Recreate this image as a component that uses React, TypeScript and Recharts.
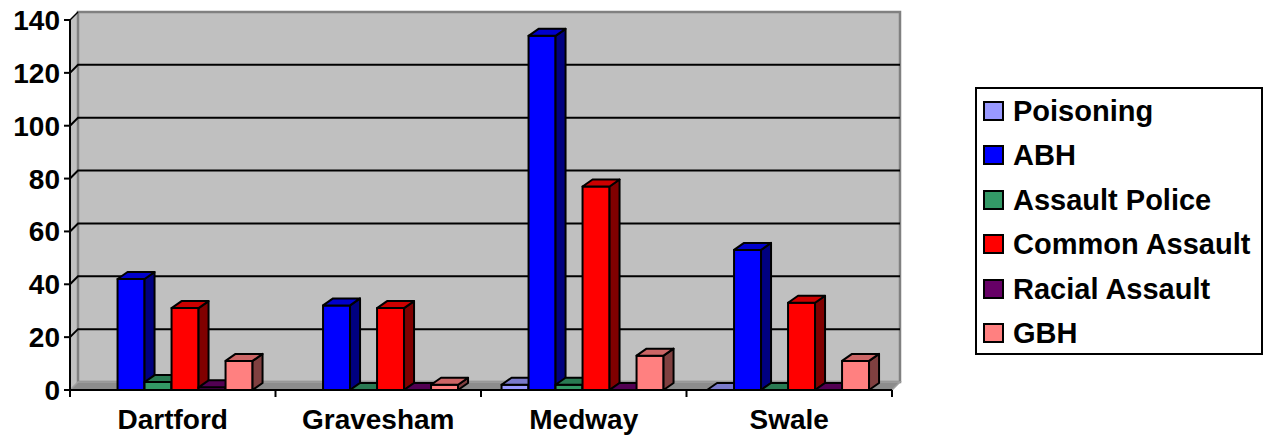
import React from 'react';
import { BarChart, Bar, XAxis, YAxis, CartesianGrid } from 'recharts';

// ---- data ----
const categories = ['Dartford', 'Gravesham', 'Medway', 'Swale'];
const poisoning: (number | null)[] = [null, null, 2, 0];
const abh = [42, 32, 134, 53];
const assaultPolice = [3, 0, 2, 0];
const commonAssault = [31, 31, 77, 33];
const racialAssault = [1, 0, 0, 0];
const gbh = [11, 2, 13, 11];
const yTicks = [0, 20, 40, 60, 80, 100, 120, 140];

const series = [
  { key: 'poisoning', name: 'Poisoning', values: poisoning, color: '#9999FF', top: '#7A7ACC', side: '#4D4D80' },
  { key: 'abh', name: 'ABH', values: abh, color: '#0000FF', top: '#0000CC', side: '#000080' },
  { key: 'assaultPolice', name: 'Assault Police', values: assaultPolice, color: '#339966', top: '#297A52', side: '#1A4D33' },
  { key: 'commonAssault', name: 'Common Assault', values: commonAssault, color: '#FF0000', top: '#CC0000', side: '#800000' },
  { key: 'racialAssault', name: 'Racial Assault', values: racialAssault, color: '#660066', top: '#520052', side: '#330033' },
  { key: 'gbh', name: 'GBH', values: gbh, color: '#FF8080', top: '#CC6666', side: '#804040' },
];

const data = categories.map((c, i) => {
  const row: any = { name: c };
  series.forEach((s) => (row[s.key] = s.values[i]));
  return row;
});

// ---- layout ----
const W = 1270;
const H = 436;
const PLOT_LEFT = 70;
const PLOT_TOP = 20;
const PLOT_W = 822;
const PLOT_H = 370;
const PLOT_RIGHT = PLOT_LEFT + PLOT_W;
const PLOT_BOTTOM = PLOT_TOP + PLOT_H;
const WALL_DX = 8;
const WALL_DY = 8;
const BAR_DX = 10;
const BAR_DY = 7;

const FONT = "'Liberation Sans', Arial, Helvetica, sans-serif";
const textStyle: React.CSSProperties = {
  fontFamily: FONT,
  fontWeight: 'bold',
  fontSize: 29,
};
const yTextStyle: React.CSSProperties = { ...textStyle, fontSize: 28 };
const xTextStyle: React.CSSProperties = { ...textStyle, fontSize: 28 };

const make3DShape = (s: any) => (props: any) => {
  const { x, y, width, height, payload } = props;
  if (!payload || payload[s.key] == null || x == null || y == null) return <g />;
  const h = Math.max(0, height || 0);
  const w = width;
  const top = `${x},${y} ${x + BAR_DX},${y - BAR_DY} ${x + w + BAR_DX},${y - BAR_DY} ${x + w},${y}`;
  const side = `${x + w},${y} ${x + w + BAR_DX},${y - BAR_DY} ${x + w + BAR_DX},${y + h - BAR_DY} ${x + w},${y + h}`;
  return (
    <g>
      {h > 0 && (
        <rect x={x} y={y} width={w} height={h} fill={s.color} stroke="#000" strokeWidth={2} strokeLinejoin="round" />
      )}
      {h > 0 && <polygon points={side} fill={s.side} stroke="#000" strokeWidth={2} strokeLinejoin="round" />}
      <polygon points={top} fill={s.top} stroke="#000" strokeWidth={2} strokeLinejoin="round" />
    </g>
  );
};

const GridLine = (p: any) => {
  const { y1, x1, x2 } = p;
  if (Math.abs(y1 - PLOT_BOTTOM) < 1 || Math.abs(y1 - PLOT_TOP) < 1) return <g key={p.key} />;
  return (
    <polyline
      key={p.key}
      points={`${x1},${y1} ${x1 + WALL_DX},${y1 - WALL_DY} ${x2 + WALL_DX},${y1 - WALL_DY}`}
      stroke="#000"
      strokeWidth={2}
      fill="none"
    />
  );
};

const XTick = (props: any) => {
  const { x, payload, index } = props;
  const band = PLOT_W / categories.length;
  const bx = x - band / 2;
  return (
    <g>
      <line x1={bx} y1={PLOT_BOTTOM} x2={bx} y2={PLOT_BOTTOM + 7} stroke="#000" strokeWidth={2} />
      {index === categories.length - 1 && (
        <line x1={bx + band} y1={PLOT_BOTTOM} x2={bx + band} y2={PLOT_BOTTOM + 7} stroke="#000" strokeWidth={2} />
      )}
      <text x={x} y={PLOT_BOTTOM + 39} textAnchor="middle" fill="#000" style={xTextStyle}>
        {payload.value}
      </text>
    </g>
  );
};

const Wall = () => (
  <svg width={W} height={H} style={{ position: 'absolute', left: 0, top: 0 }}>
    <polygon
      points={`${PLOT_LEFT},${PLOT_BOTTOM} ${PLOT_LEFT},${PLOT_TOP} ${PLOT_LEFT + WALL_DX},${PLOT_TOP - WALL_DY} ${PLOT_LEFT + WALL_DX},${PLOT_BOTTOM - WALL_DY}`}
      fill="#c0c0c0"
      stroke="#909090"
      strokeWidth={1}
    />
    <rect
      x={PLOT_LEFT + WALL_DX}
      y={PLOT_TOP - WALL_DY}
      width={PLOT_W}
      height={PLOT_H}
      fill="#c0c0c0"
      stroke="#808080"
      strokeWidth={2.5}
    />
    <polygon
      points={`${PLOT_LEFT},${PLOT_BOTTOM} ${PLOT_LEFT + WALL_DX},${PLOT_BOTTOM - WALL_DY} ${PLOT_RIGHT + WALL_DX},${PLOT_BOTTOM - WALL_DY} ${PLOT_RIGHT},${PLOT_BOTTOM}`}
      fill="#8c8c8c"
      stroke="#a0a0a0"
      strokeWidth={1.5}
    />
    <line x1={PLOT_LEFT} y1={PLOT_TOP} x2={PLOT_LEFT + WALL_DX} y2={PLOT_TOP - WALL_DY} stroke="#000" strokeWidth={1.5} />
  </svg>
);

const LegendBox = () => (
  <div
    style={{
      position: 'absolute',
      left: 975,
      top: 87,
      width: 288,
      height: 268,
      boxSizing: 'border-box',
      border: '2px solid #000',
      background: '#fff',
    }}
  >
    {series.map((s, i) => (
      <div
        key={s.key}
        style={{
          position: 'absolute',
          left: 6,
          top: 111 - 87 - 2 - 15 + i * 44.4,
          height: 30,
          display: 'flex',
          alignItems: 'center',
          whiteSpace: 'nowrap',
        }}
      >
        <div
          style={{
            width: 21,
            height: 20,
            boxSizing: 'border-box',
            border: '2px solid #000',
            background: s.color,
            marginRight: 9,
          }}
        />
        <span style={{ ...textStyle, color: '#000', lineHeight: '30px' }}>{s.name}</span>
      </div>
    ))}
  </div>
);

export default function App() {
  return (
    <div style={{ position: 'fixed', left: 0, top: 0, width: W, height: H, background: '#fff', overflow: 'hidden' }}>
      <Wall />
      <div style={{ position: 'absolute', left: 0, top: 0 }}>
        <BarChart
          width={W}
          height={H}
          data={data}
          margin={{ top: PLOT_TOP, right: W - PLOT_RIGHT, bottom: 0, left: 0 }}
          barCategoryGap="10%"
          barGap={0}
        >
          <CartesianGrid vertical={false} fill="none" horizontal={GridLine as any} />
          <XAxis
            dataKey="name"
            height={H - PLOT_BOTTOM}
            interval={0}
            tickLine={false}
            axisLine={{ stroke: '#000', strokeWidth: 2 }}
            tick={XTick as any}
          />
          <YAxis
            type="number"
            domain={[0, 140]}
            ticks={yTicks}
            width={PLOT_LEFT}
            tickSize={6}
            tickMargin={4}
            axisLine={{ stroke: '#000', strokeWidth: 2 }}
            tickLine={{ stroke: '#000', strokeWidth: 2 }}
            tick={{ fill: '#000', style: yTextStyle } as any}
            interval={0}
          />
          {series.map((s) => (
            <Bar
              key={s.key}
              dataKey={s.key}
              name={s.name}
              fill={s.color}
              isAnimationActive={false}
              shape={make3DShape(s)}
            />
          ))}
        </BarChart>
      </div>
      <LegendBox />
    </div>
  );
}
